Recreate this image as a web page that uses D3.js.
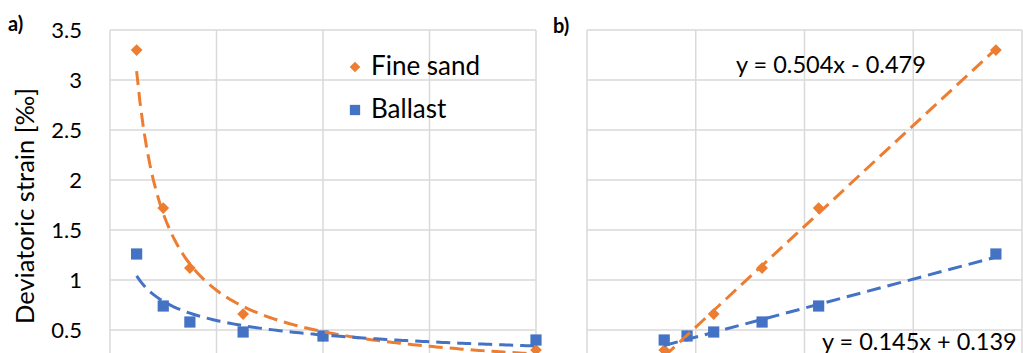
<!DOCTYPE html>
<html>
<head>
<meta charset="utf-8">
<script src="https://cdn.jsdelivr.net/npm/d3@7/dist/d3.min.js"></script>
<style>
  body { margin: 0; background: #fff; overflow: hidden; }
  svg { display: block; }
  text { font-family: Lato, "Open Sans", sans-serif; fill: #000; }
</style>
</head>
<body>
<div id="viz"></div>
<script>
var width = 1023;
var height = 353;

// values
var xLoad = [0.25, 0.5, 0.75, 1.25, 2, 4];          // panel a, x
var xTrans = [7.52, 4.26, 3.22, 2.33, 1.84, 1.42];  // panel b, x
var fineSand = [3.3, 1.72, 1.12, 0.66, 0.44, 0.3];
var ballast = [1.26, 0.74, 0.58, 0.48, 0.44, 0.40];
var yTicks = [0.5, 1, 1.5, 2, 2.5, 3, 3.5];
var seriesNames = ["Fine sand", "Ballast"];
var sandFit = [0.504, -0.479];   // slope, intercept (panel b)
var ballastFit = [0.145, 0.139];

var orange = "#ED7D31";
var blue = "#4472C4";
var grid = "#d9d9d9";

var viz = d3.select("#viz")
  .append("svg")
  .attr("width", width)
  .attr("height", height);

var y = d3.scaleLinear().domain([0, 3.5]).range([380, 30]);
var xA = d3.scaleLinear().domain([0, 4]).range([110, 536]);
var xB = d3.scaleLinear().domain([0, 8]).range([587, 1022]);

// power regression like excel trendline
function powerFit(xs, ys) {
  var lx = xs.map(Math.log), ly = ys.map(Math.log);
  var mx = d3.mean(lx), my = d3.mean(ly);
  var sxy = d3.sum(lx, function(d, i) { return (d - mx) * (ly[i] - my); });
  var sxx = d3.sum(lx, function(d) { return (d - mx) * (d - mx); });
  var b = sxy / sxx;
  var a = Math.exp(my - b * mx);
  return function(x) { return a * Math.pow(x, b); };
}

function drawGrid(g, x, xt) {
  g.selectAll(".hg")
    .data([0].concat(yTicks))
    .enter().append("line")
    .attr("x1", x.range()[0]).attr("x2", x.range()[1])
    .attr("y1", function(d) { return y(d); })
    .attr("y2", function(d) { return y(d); })
    .style("stroke", grid).style("stroke-width", 1.5);
  g.selectAll(".vg")
    .data(xt)
    .enter().append("line")
    .attr("x1", function(d) { return x(d); })
    .attr("x2", function(d) { return x(d); })
    .attr("y1", y(3.5)).attr("y2", y(0))
    .style("stroke", grid).style("stroke-width", 1.5);
}

function drawMarkers(g, x, xs, ys, shape, color) {
  var sym = shape == "diamond" ? d3.symbolDiamond2 : d3.symbolSquare2;
  var s = shape == "diamond" ? 88 : 160;
  g.selectAll(null)
    .data(ys)
    .enter().append("path")
    .attr("d", d3.symbol().type(sym).size(s))
    .attr("transform", function(d, i) {
      return "translate(" + x(xs[i]) + "," + y(d) + ")";
    })
    .style("fill", color);
}

function dashLine(g, pts, color) {
  g.append("path")
    .datum(pts)
    .attr("d", d3.line().x(function(d) { return d[0]; }).y(function(d) { return d[1]; }))
    .style("fill", "none")
    .style("stroke", color)
    .style("stroke-width", 3)
    .style("stroke-dasharray", "14,7");
}

// ---- panel a ----
var gA = viz.append("g");
drawGrid(gA, xA, [0, 1, 2, 3, 4]);
drawMarkers(gA, xA, xLoad, fineSand, "diamond", orange);
drawMarkers(gA, xA, xLoad, ballast, "square", blue);

var sandCurve = powerFit(xLoad, fineSand);
var ballCurve = powerFit(xLoad, ballast);
var xs = d3.range(0, 121).map(function(i) { return 0.25 + i * (4 - 0.25) / 120; });
dashLine(gA, xs.map(function(v) { return [xA(v), y(sandCurve(v))]; }), orange);
dashLine(gA, xs.map(function(v) { return [xA(v), y(ballCurve(v))]; }), blue);

gA.selectAll(".ytick")
  .data(yTicks)
  .enter().append("text")
  .attr("x", 82)
  .attr("y", function(d) { return y(d); })
  .attr("dy", "0.36em")
  .attr("text-anchor", "end")
  .style("font-size", "22px")
  .text(function(d) { return d; });

gA.append("text")
  .attr("transform", "translate(34,206) rotate(-90)")
  .attr("text-anchor", "middle")
  .style("font-size", "25.5px")
  .text("Deviatoric strain [‰]");

gA.append("text")
  .attr("x", 8).attr("y", 31)
  .style("font-size", "20px").style("font-weight", "bold")
  .text("a)");

// legend
var legend = gA.append("g").attr("transform", "translate(355,0)");
legend.append("path")
  .attr("d", d3.symbol().type(d3.symbolDiamond2).size(72))
  .attr("transform", "translate(0,67)")
  .style("fill", orange);
legend.append("path")
  .attr("d", d3.symbol().type(d3.symbolSquare2).size(135))
  .attr("transform", "translate(0,110)")
  .style("fill", blue);
legend.selectAll(".lt")
  .data(seriesNames)
  .enter().append("text")
  .attr("x", 16)
  .attr("y", function(d, i) { return 75 + i * 43; })
  .style("font-size", "26px")
  .text(function(d) { return d; });

// ---- panel b ----
var gB = viz.append("g");
drawGrid(gB, xB, [0, 2, 4, 6, 8]);
drawMarkers(gB, xB, xTrans, fineSand, "diamond", orange);
drawMarkers(gB, xB, xTrans, ballast, "square", blue);

var xlo = d3.min(xTrans), xhi = d3.max(xTrans);
dashLine(gB, [xlo, xhi].map(function(v) { return [xB(v), y(sandFit[0] * v + sandFit[1])]; }), orange);
dashLine(gB, [xlo, xhi].map(function(v) { return [xB(v), y(ballastFit[0] * v + ballastFit[1])]; }), blue);

gB.append("text")
  .attr("x", 553).attr("y", 33)
  .style("font-size", "20px").style("font-weight", "bold")
  .text("b)");

gB.append("text")
  .attr("x", 736).attr("y", 73)
  .style("font-size", "23.5px")
  .text("y = " + sandFit[0] + "x - " + Math.abs(sandFit[1]));

// the reference crops this one at the bottom edge too
gB.append("text")
  .attr("x", 822).attr("y", 350)
  .style("font-size", "23.5px")
  .text("y = " + ballastFit[0] + "x + " + ballastFit[1]);
</script>
</body>
</html>
